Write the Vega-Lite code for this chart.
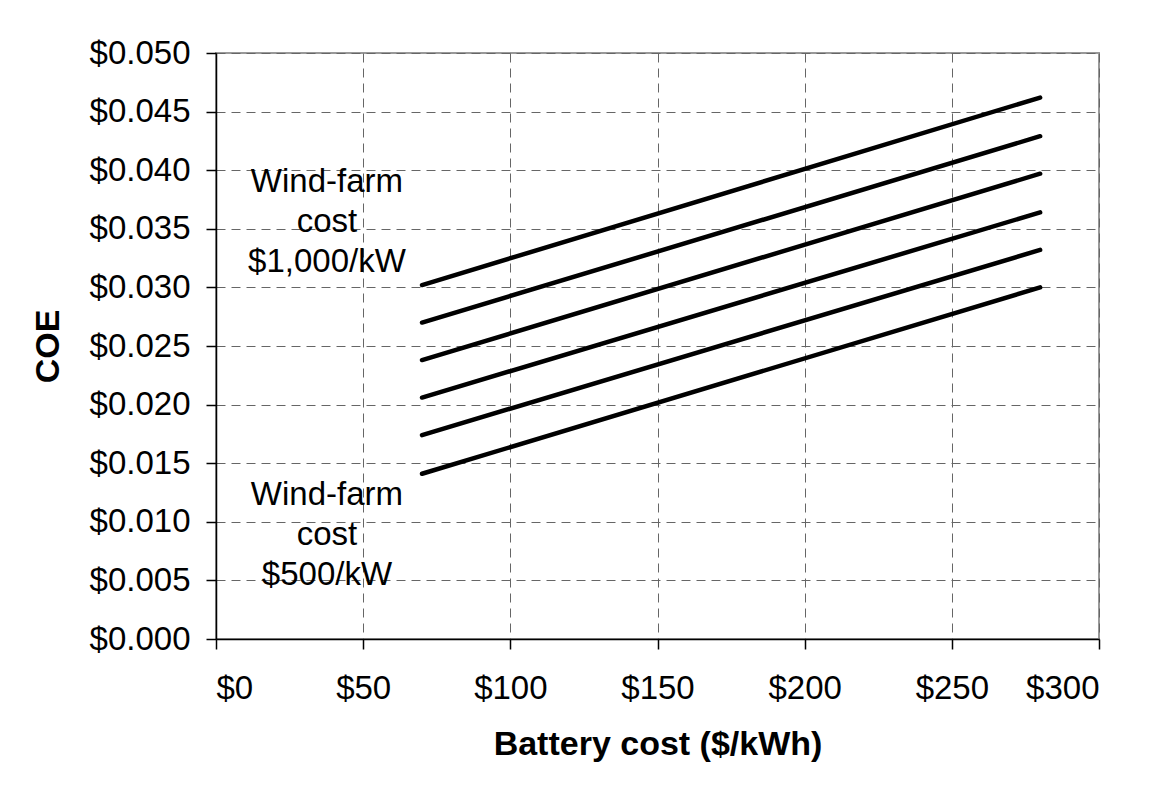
{
  "$schema": "https://vega.github.io/schema/vega-lite/v6.json",
  "autosize": {"type": "none"},
  "padding": {"left": 216, "top": 53, "right": 57, "bottom": 151},
  "width": 883,
  "height": 586,
  "background": "white",
  "config": {
    "font": "Liberation Sans",
    "view": {"stroke": "#999999", "strokeWidth": 2},
    "axis": {
      "labelFont": "Liberation Sans",
      "titleFont": "Liberation Sans",
      "labelColor": "black",
      "titleColor": "black",
      "domainColor": "black",
      "domainWidth": 1.5,
      "tickColor": "black",
      "tickWidth": 1.5,
      "tickSize": 10,
      "gridColor": "#666666",
      "gridDash": [9, 6],
      "gridWidth": 1,
      "gridOpacity": 1
    }
  },
  "datasets": {
    "lines": [
      {"series": "1", "battery": 70, "coe": 0.0302},
      {"series": "1", "battery": 280, "coe": 0.0462},
      {"series": "2", "battery": 70, "coe": 0.0270},
      {"series": "2", "battery": 280, "coe": 0.0429},
      {"series": "3", "battery": 70, "coe": 0.0238},
      {"series": "3", "battery": 280, "coe": 0.0397},
      {"series": "4", "battery": 70, "coe": 0.0206},
      {"series": "4", "battery": 280, "coe": 0.0364},
      {"series": "5", "battery": 70, "coe": 0.0174},
      {"series": "5", "battery": 280, "coe": 0.0332},
      {"series": "6", "battery": 70, "coe": 0.0141},
      {"series": "6", "battery": 280, "coe": 0.0300}
    ],
    "notes": [
      {"battery": 37.7, "coe": 0.0390, "label": ["Wind-farm", "cost", "$1,000/kW"]},
      {"battery": 37.7, "coe": 0.0123, "label": ["Wind-farm", "cost", "$500/kW"]}
    ]
  },
  "layer": [
    {
      "data": {"name": "lines"},
      "mark": {"type": "line", "color": "black", "strokeWidth": 4.5, "strokeCap": "round"},
      "encoding": {
        "x": {
          "field": "battery", "type": "quantitative",
          "scale": {"domain": [0, 300], "nice": false},
          "axis": {
            "title": "Battery cost ($/kWh)",
            "values": [0, 50, 100, 150, 200, 250, 300],
            "format": "$.0f",
            "labelFontSize": 33,
            "labelPadding": 23,
            "titleFontSize": 34,
            "titleFontWeight": "bold",
            "titleBaseline": "middle",
            "titleY": 105,
            "grid": true
          }
        },
        "y": {
          "field": "coe", "type": "quantitative",
          "scale": {"domain": [0, 0.05], "nice": false},
          "axis": {
            "title": "COE",
            "values": [0, 0.005, 0.01, 0.015, 0.02, 0.025, 0.03, 0.035, 0.04, 0.045, 0.05],
            "format": "$.3f",
            "labelFontSize": 33,
            "labelPadding": 16,
            "titleFontSize": 34,
            "titleFontWeight": "bold",
            "titleAngle": 270,
            "titleBaseline": "middle",
            "titleX": -168,
            "titleY": 293,
            "grid": true
          }
        },
        "detail": {"field": "series"}
      }
    },
    {
      "data": {"name": "notes"},
      "mark": {"type": "text", "font": "Liberation Sans", "fontSize": 33, "lineHeight": 40, "align": "center", "baseline": "middle", "color": "black"},
      "encoding": {
        "x": {"field": "battery", "type": "quantitative"},
        "y": {"field": "coe", "type": "quantitative"},
        "text": {"field": "label"}
      }
    }
  ]
}
